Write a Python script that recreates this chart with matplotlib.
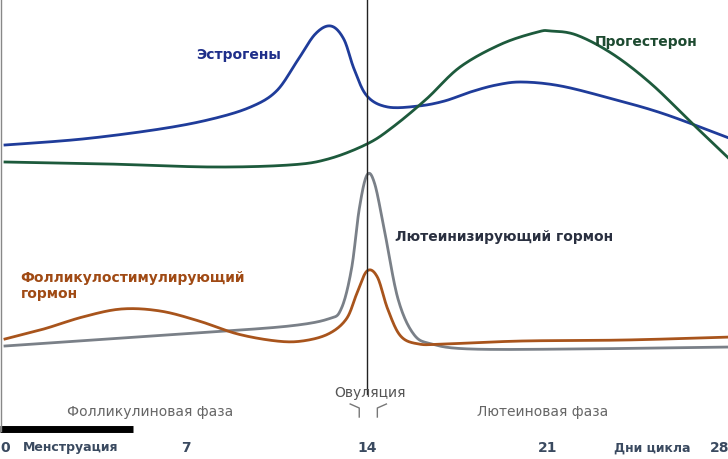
import numpy as np
import matplotlib.pyplot as plt

# days and levels (pixel-like height, 0 = top of picture)
est_day = [0, 3, 6, 8, 9.5, 10.5, 11.3, 12.0, 12.6, 13.1, 13.5, 14.0, 14.8, 16, 17, 18, 19, 20, 21.5, 23.5, 25.5, 28.1]
est_val = [146, 140, 130, 120, 108, 92, 62, 35, 27, 40, 70, 97, 108, 107, 102, 93, 86, 83, 87, 100, 115, 140]
pro_day = [0, 4, 8, 11, 12.5, 14, 15, 16.3, 17.6, 19.2, 20.6, 21.1, 22.1, 23.5, 25, 26.6, 28.1]
pro_val = [163, 165, 168, 166, 160, 145, 128, 100, 68, 45, 33, 32, 36, 55, 85, 125, 162]
lh_day = [0, 4, 8, 11, 12.5, 13, 13.4, 13.7, 14, 14.3, 14.7, 15.2, 15.8, 16.5, 18, 22, 28.1]
lh_val = [347, 340, 333, 327, 320, 310, 270, 210, 176, 185, 235, 300, 335, 345, 350, 350, 348]
fsh_day = [0, 1.5, 3, 4.5, 6, 7.5, 9, 10.5, 11.5, 12.5, 13.2, 13.6, 14, 14.4, 14.8, 15.3, 16, 17, 20, 24, 28.1]
fsh_val = [340, 330, 318, 310, 312, 322, 335, 342, 342, 335, 320, 295, 272, 278, 310, 337, 345, 345, 342, 341, 338]

day_ticks = [0, 7, 14, 21, 28]


def smooth(xs, ys, n=20):
    # Catmull-Rom curve through the read points, for drawing only
    x = np.asarray(xs, float)
    y = np.asarray(ys, float)
    px_ = np.r_[x[0], x, x[-1]]
    py_ = np.r_[y[0], y, y[-1]]
    ox, oy = [], []
    t = np.linspace(0, 1, n, endpoint=False)
    for i in range(1, len(px_) - 2):
        for arr, out in ((px_, ox), (py_, oy)):
            p0, p1, p2, p3 = arr[i - 1], arr[i], arr[i + 1], arr[i + 2]
            out.extend(0.5 * (2 * p1 + (-p0 + p2) * t + (2 * p0 - 5 * p1 + 4 * p2 - p3) * t ** 2
                              + (-p0 + 3 * p1 - 3 * p2 + p3) * t ** 3))
    ox.append(x[-1])
    oy.append(y[-1])
    return ox, oy


fig = plt.figure(figsize=(7.28, 4.6), dpi=100)
ax = fig.add_axes([0, 0, 1, 1])
px = 362 / 14
ax.set_xlim(-5 / px, 723 / px)
ax.set_ylim(460, 0)
ax.axis('off')

ax.plot(*smooth(est_day, est_val), color='#1f3c9a', lw=2)
ax.plot(*smooth(pro_day, pro_val), color='#1d5a3c', lw=2)
ax.plot(*smooth(lh_day, lh_val), color='#7a8088', lw=2)
ax.plot(*smooth(fsh_day, fsh_val), color='#a8541c', lw=2)

ax.plot([14, 14], [0, 395], color='#222222', lw=1)
ax.plot([-0.2, 4.95], [430, 430], color='black', lw=5, solid_capstyle='butt')
ax.plot([-0.15, -0.15], [0, 432], color='#888888', lw=1)

# ovulation bracket
ax.plot([13.35, 13.7, 13.7], [405, 409, 418], color='#777777', lw=1)
ax.plot([14.75, 14.4, 14.4], [405, 409, 418], color='#777777', lw=1)

fs = 10
ax.text(7.4, 55, 'Эстрогены', color='#1f2f8a', fontsize=fs, fontweight='bold', ha='left', va='center')
ax.text(22.8, 42, 'Прогестерон', color='#1d4a30', fontsize=fs, fontweight='bold', ha='left', va='center')
ax.text(15.1, 237, 'Лютеинизирующий гормон', color='#2a3040', fontsize=fs, fontweight='bold', ha='left', va='center')
ax.text(0.6, 286, 'Фолликулостимулирующий\nгормон', color='#a04a14', fontsize=fs, fontweight='bold',
        ha='left', va='center', linespacing=1.2)
ax.text(14.1, 393, 'Овуляция', color='#555555', fontsize=fs, ha='center', va='center')
ax.text(5.6, 412, 'Фолликулиновая фаза', color='#666666', fontsize=fs, ha='center', va='center')
ax.text(20.8, 412, 'Лютеиновая фаза', color='#666666', fontsize=fs, ha='center', va='center')

lab_col = '#3a4a60'
for d in day_ticks:
    ha = 'right' if d == 28 else 'center'
    ax.text(d, 448, str(d), color=lab_col, fontsize=fs, fontweight='bold', ha=ha, va='center')
ax.text(0.7, 448, 'Менструация', color=lab_col, fontsize=9, fontweight='bold', ha='left', va='center')
ax.text(26.5, 448, 'Дни цикла', color=lab_col, fontsize=9, fontweight='bold', ha='right', va='center')

plt.savefig('out.png', dpi=100)
